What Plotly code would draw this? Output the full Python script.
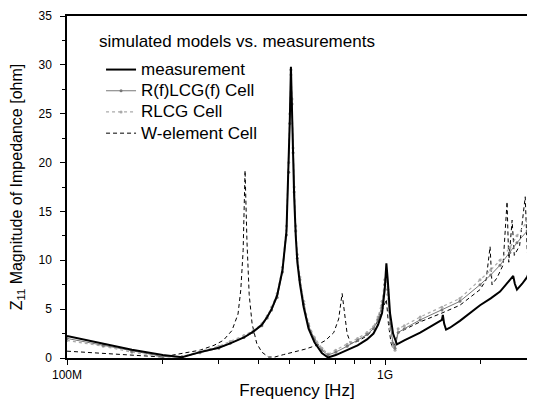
import plotly.graph_objects as go

# ---- data (frequency in MHz, |Z11| in ohm) ----
meas_f = [100, 130, 160, 200, 230, 262, 300, 326, 360, 385, 410, 426, 440, 458, 476, 490, 498, 502, 506,
          510, 514, 518, 524, 530, 540, 555, 575, 600, 633, 662, 700, 760, 820, 878, 920, 951, 979, 998, 1010,
          1020, 1037, 1060, 1090, 1150, 1290, 1420, 1510, 1520, 1535, 1556, 1600, 1720, 1850, 1990,
          2150, 2300, 2400, 2470, 2530, 2560, 2600, 2700, 2800, 2950]
meas_z = [2.25, 1.5, 0.85, 0.3, 0.08, 0.6, 1.05, 1.5, 2.1, 2.7, 3.4, 4.2, 5.0, 6.4, 9, 13, 19.5, 24.5, 29.8,
          25, 20, 16.5, 12.5, 9.8, 7.6, 5.2, 3.0, 1.6, 0.5, 0.05, 0.3, 0.8, 1.3, 1.9, 2.5, 3.4, 4.6, 7, 9.7,
          8, 4.6, 2.5, 1.4, 1.8, 2.6, 3.4, 3.9, 4.4, 3.5, 2.9, 3.1, 3.8, 4.6, 5.4,
          6.1, 6.8, 7.5, 8.0, 8.4, 7.6, 7.0, 7.6, 8.3, 10.5]

rf_f = [100, 130, 160, 200, 230, 262, 300, 326, 360, 385, 410, 426, 440, 458, 476, 490, 498, 502, 506,
        510, 514, 518, 524, 530, 540, 555, 575, 600, 633, 662, 700, 760, 820, 878, 920, 951, 979, 998, 1010,
        1020, 1037, 1060, 1075, 1100, 1150, 1290, 1510, 1720, 1990, 2150, 2300, 2470, 2600, 2800, 2950]
rf_z = [2.0, 1.3, 0.7, 0.15, 0.1, 0.55, 1.0, 1.5, 2.1, 2.6, 3.3, 4.1, 4.9, 6.2, 8.8, 12.6, 19, 24, 29.5,
        26, 21, 17, 13, 10.2, 8.0, 5.5, 3.3, 1.9, 0.8, 0.3, 0.6, 1.2, 1.8, 2.4, 3.0, 3.9, 5.4, 7.5, 8.8,
        7, 3.5, 1.5, 1.0, 2.6, 3.0, 3.9, 4.9, 5.8, 7.5, 8.5, 9.5, 10.8, 11.8, 13, 15.5]

rlcg_f = [100, 130, 160, 200, 230, 262, 300, 326, 360, 385, 410, 426, 440, 458, 476, 490, 498, 502, 506,
          510, 514, 518, 524, 530, 540, 555, 575, 600, 633, 662, 700, 760, 820, 878, 920, 951, 979, 998, 1010,
          1020, 1037, 1060, 1075, 1100, 1150, 1290, 1510, 1720, 1990, 2150, 2300, 2470, 2600, 2800,
          2880, 2920, 2940, 2950]
rlcg_z = [1.8, 1.2, 0.6, 0.1, 0.15, 0.7, 1.2, 1.7, 2.3, 2.8, 3.5, 4.3, 5.2, 6.6, 9.3, 13.5, 20, 25, 29.0,
          26.5, 21.5, 17.5, 13.5, 10.6, 8.3, 5.8, 3.5, 2.1, 1.0, 0.4, 0.8, 1.4, 2.0, 2.6, 3.2, 4.2, 5.8, 8, 8.6,
          6.5, 3.0, 1.2, 0.8, 3.0, 3.3, 4.2, 5.2, 6.1, 8.0, 9.0, 10.0, 11.3, 12.5, 14,
          16, 20, 25, 24]

w_f = [100, 130, 160, 200, 215, 240, 262, 290, 310, 330, 345, 352, 358, 363, 368, 374, 382, 395, 410,
       430, 450, 480, 520, 560, 610, 650, 690, 715, 733, 745, 760, 780, 820, 880, 930, 970, 1000, 1010,
       1025, 1045, 1060, 1100, 1150, 1290, 1510, 1720, 1990, 2080, 2140, 2170, 2250, 2350, 2420, 2450,
       2510, 2550, 2650, 2760, 2800, 2880, 2950]
w_z = [0.7, 0.45, 0.25, 0.1, 0.3, 0.6, 0.8, 1.3, 1.8, 2.8, 4.5, 7, 11, 19.2, 12, 6.5, 3.5, 1.5, 0.6,
       0.1, 0.1, 0.35, 0.6, 0.9, 1.3, 1.8, 2.6, 4, 6.6, 4.5, 2.5, 1.5, 1.7, 2.3, 3.2, 4.5, 5.8, 6,
       3.5, 1.5, 1.0, 2.6, 2.9, 3.7, 4.6, 5.4, 7.0, 8.0, 11.4, 7.5, 8.2, 9.5, 16, 9.8,
       14.1, 10.5, 11.5, 16.5, 11, 8, 5.2]

x_tick_vals = [1e8, 1e9]
x_tick_text = ["100M", "1G"]
x_minor_vals = [2e8, 3e8, 4e8, 5e8, 6e8, 7e8, 8e8, 9e8, 2e9]
y_tick_vals = [0, 5, 10, 15, 20, 25, 30, 35]

FONT = "Liberation Sans, Arial, sans-serif"


def hz(fs):
    return [f * 1e6 for f in fs]


def big(name):
    return '<span style="font-size:17px">' + name + '</span>'


fig = go.Figure()
fig.add_trace(go.Scatter(x=hz(w_f), y=w_z, name=big("W-element Cell"), mode="lines",
                         line=dict(color="black", width=1, dash="4px,3px")))
fig.add_trace(go.Scatter(x=hz(rlcg_f), y=rlcg_z, name=big("RLCG Cell"), mode="lines+markers",
                         line=dict(color="#aaaaaa", width=1.2, dash="dot"),
                         marker=dict(color="#aaaaaa", size=3)))
fig.add_trace(go.Scatter(x=hz(rf_f), y=rf_z, name=big("R(f)LCG(f) Cell"), mode="lines+markers",
                         line=dict(color="#777777", width=1),
                         marker=dict(color="#777777", size=3)))
fig.add_trace(go.Scatter(x=hz(meas_f), y=meas_z, name=big("measurement"), mode="lines",
                         line=dict(color="black", width=2)))

fig.update_layout(
    width=519, height=392,
    margin=dict(l=59, r=0, t=8, b=42),
    paper_bgcolor="white", plot_bgcolor="white",
    font=dict(family=FONT, color="black", size=12),
    showlegend=True,
    legend=dict(x=0.074, y=0.889, xanchor="left", yanchor="top",
                traceorder="reversed", bgcolor="rgba(0,0,0,0)",
                font=dict(family=FONT, size=14, color="black"),
                tracegroupgap=0),
    annotations=[dict(text="simulated models vs. measurements", x=0.066, y=0.924,
                      xref="paper", yref="paper", xanchor="left", yanchor="middle",
                      showarrow=False, font=dict(family=FONT, size=17, color="black"))],
)

fig.update_xaxes(
    type="log", range=[8, 9.4465],
    tickmode="array", tickvals=x_tick_vals, ticktext=x_tick_text,
    ticks="outside", ticklen=5, tickwidth=1, tickcolor="black",
    minor=dict(tickmode="array", tickvals=x_minor_vals,
               ticks="outside", ticklen=4, tickcolor="black", showgrid=False),
    showline=True, linecolor="black", linewidth=1.5, mirror=True,
    showgrid=False, zeroline=False,
    tickfont=dict(family=FONT, size=12, color="black"),
    title=dict(text="Frequency [Hz]", font=dict(family=FONT, size=17, color="black"), standoff=4),
)
fig.update_yaxes(
    range=[0, 35],
    tickmode="array", tickvals=y_tick_vals,
    ticks="outside", ticklen=5, tickwidth=1, tickcolor="black",
    ticklabelstandoff=6,
    minor=dict(dtick=2.5, ticks="outside", ticklen=3, tickcolor="black", showgrid=False),
    showline=True, linecolor="black", linewidth=1.5,
    showgrid=False, zeroline=False,
    tickfont=dict(family=FONT, size=12, color="black"),
    title=dict(text="Z<sub>11</sub> Magnitude of Impedance [ohm]",
               font=dict(family=FONT, size=16, color="black"), standoff=15),
)

fig.write_html("out.html")
